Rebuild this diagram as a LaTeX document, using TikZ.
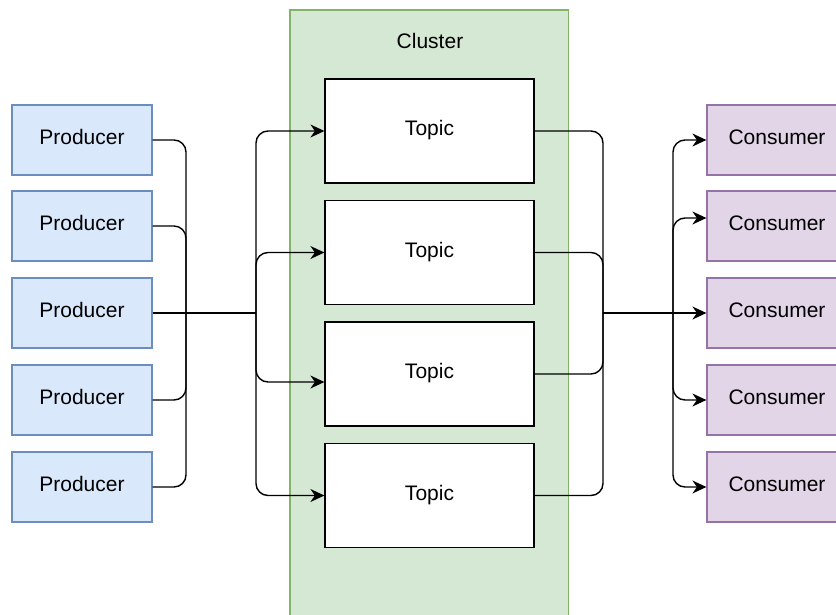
\documentclass[tikz,border=0pt]{standalone}
\usepackage{fontspec}
\setmainfont{Liberation Sans}
\usetikzlibrary{arrows.meta}
\definecolor{prodfill}{HTML}{DAE8FC}
\definecolor{prodline}{HTML}{6C8EBF}
\definecolor{consfill}{HTML}{E1D5E7}
\definecolor{consline}{HTML}{9673A6}
\definecolor{clusfill}{HTML}{D5E8D4}
\definecolor{clusline}{HTML}{82B366}
\begin{document}
\begin{tikzpicture}[x=1pt,y=-1pt,
  label text/.style={inner sep=0pt, text height=15pt, text depth=6pt,
    font=\fontsize{21}{25}\selectfont},
  box/.style={label text, draw, line width=1.2pt, minimum width=140pt, minimum height=70pt},
  producer/.style={box, fill=prodfill, draw=prodline},
  consumer/.style={box, fill=consfill, draw=consline},
  topic/.style={box, fill=white, draw=black, minimum width=209pt, minimum height=104pt},
  cluster/.style={draw=clusline, fill=clusfill, line width=1.2pt, inner sep=0pt,
    minimum width=278.5pt, minimum height=640pt},
  link/.style={line width=1.4pt, rounded corners=12pt},
  feed/.style={link, -{Stealth[length=14pt,width=13pt,inset=4.5pt]}},
]
\useasboundingbox (0,0) rectangle (836,614);

% cluster container
\node[cluster] (cluster) at (429.25,330) {};
\node[label text] (clustername) at (430,44) {Cluster};

% topics
\node[topic] (t1) at (429.5,131) {Topic};
\node[topic] (t2) at (429.5,252.5) {Topic};
\node[topic] (t3) at (429.5,374) {Topic};
\node[topic] (t4) at (429.5,495.5) {Topic};

% producers and consumers
\foreach \i/\y in {1/140,2/226,3/313,4/400,5/487}{
  \node[producer] (p\i) at (82,\y) {Producer};
  \node[consumer] (c\i) at (777,\y) {Consumer};
}

% bus junctions
\coordinate (lbus) at (186,313);
\coordinate (lhub) at (256,313);
\coordinate (rbus) at (603,313);
\coordinate (rhub) at (673,313);

% producers -> topics
\foreach \i in {1,2,4,5} \draw[link] (p\i.east) -| (lbus);
\draw[link] (p3.east) -- (lhub);
\draw[feed] (lhub) |- (t1.west);
\draw[feed] (lhub) |- (t2.west);
\draw[feed] (lhub) |- ([yshift=-8pt]t3.west);
\draw[feed] (lhub) |- (t4.west);

% topics -> consumers
\foreach \i in {1,...,4} \draw[link] (t\i.east) -| (rbus);
\draw[feed] (rbus) -- (c3.west);
\draw[feed] (rhub) |- (c1.west);
\draw[feed] (rhub) |- ([yshift=8pt]c2.west);
\draw[feed] (rhub) |- (c4.west);
\draw[feed] (rhub) |- (c5.west);
\end{tikzpicture}
\end{document}
